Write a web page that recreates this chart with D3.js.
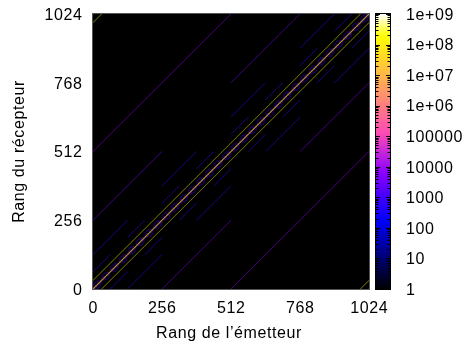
<!DOCTYPE html>
<html>
<head>
<meta charset="utf-8">
<script src="https://cdn.jsdelivr.net/npm/d3@7"></script>
<style>
  html, body { margin: 0; padding: 0; background: #fff; }
  #chart { position: relative; width: 470px; height: 349px; }
  #chart canvas, #chart svg { position: absolute; left: 0; top: 0; }
  text { font-family: "Liberation Sans", Arial, Helvetica, sans-serif; font-size: 16px; letter-spacing: 0.6px; fill: #000; }
</style>
</head>
<body>
<div id="chart"></div>
<script>
const nRanks = 1024;
const xTicks = [0, 256, 512, 768, 1024];
const yTicks = [0, 256, 512, 768, 1024];
const cbTicks = [1, 10, 100, 1e3, 1e4, 1e5, 1e6, 1e7, 1e8, 1e9];
const cbLabels = ['1', '10', '100', '1000', '10000', '100000', '1e+06', '1e+07', '1e+08', '1e+09'];

// halo exchange on a periodic 32 x 32 process grid: receiver offset and volume
const haloOffsets = [1, -1, 32, -32];
const haloVolumes = [2e8, 2e8, 1e8, 1e8];

// recursive doubling exchange (receiver = sender xor stride) and volume
const xorStrides = [512, 256, 128, 64, 32, 16, 8, 4, 2];
const xorVolumes = [8e3, 5e3, 1e3, 1e3, 1e3, 1e3, 2e3, 5e3, 1e4];

const width = 470, height = 349;
const plot = { left: 93, right: 369, top: 14, bottom: 289 };
const cbar = { left: 376, right: 390 };

// gnuplot "rgbformulae 30,31,32"
function clamp(v) { return Math.max(0, Math.min(1, v)); }
function palette(t) {
  const r = clamp(t / 0.32 - 0.78125);
  const g = clamp(2 * t - 0.84);
  let b;
  if (t < 0.25) b = 4 * t;
  else if (t < 0.42) b = 1;
  else if (t < 0.92) b = -2 * t + 1.84;
  else b = t / 0.08 - 11.5;
  return d3.rgb(r * 255, g * 255, clamp(b) * 255).toString();
}

const x = d3.scaleLinear().domain([0, nRanks]).range([plot.left, plot.right]);
const y = d3.scaleLinear().domain([0, nRanks]).range([plot.bottom, plot.top]);
const cbY = d3.scaleLog().domain([1, 1e9]).range([plot.bottom, plot.top]);
const color = d3.scaleSequentialLog(palette).domain([1, 1e9]);

// build the communication matrix (sender -> receiver)
const cells = new Map();
function add(s, r, v) {
  const k = s * nRanks + r;
  cells.set(k, (cells.get(k) || 0) + v);
}
for (let s = 0; s < nRanks; s++) {
  haloOffsets.forEach((off, i) => add(s, (s + off + nRanks) % nRanks, haloVolumes[i]));
  xorStrides.forEach((st, i) => add(s, s ^ st, xorVolumes[i]));
}
const data = Array.from(cells, ([k, v]) => ({ s: Math.floor(k / nRanks), r: k % nRanks, v }))
  .sort((a, b) => a.v - b.v);

const root = d3.select('#chart');
const canvas = root.append('canvas').attr('width', width).attr('height', height);
const ctx = canvas.node().getContext('2d');

ctx.save();
ctx.beginPath();
ctx.rect(plot.left, plot.top, plot.right - plot.left, plot.bottom - plot.top);
ctx.clip();
ctx.fillStyle = color(1);
ctx.fillRect(plot.left, plot.top, plot.right - plot.left, plot.bottom - plot.top);
const minCell = 0.4;
data.forEach(d => {
  const x0 = x(d.s), x1 = x(d.s + 1);
  const y0 = y(d.r + 1), y1 = y(d.r);
  const w = Math.max(x1 - x0, minCell), h = Math.max(y1 - y0, minCell);
  ctx.fillStyle = color(d.v);
  ctx.fillRect((x0 + x1) / 2 - w / 2, (y0 + y1) / 2 - h / 2, w, h);
});
ctx.restore();

const svg = root.append('svg').attr('width', width).attr('height', height);

// plot border
svg.append('rect')
  .attr('x', plot.left - 0.5).attr('y', plot.top - 0.5)
  .attr('width', plot.right - plot.left + 1).attr('height', plot.bottom - plot.top + 1)
  .attr('fill', 'none').attr('stroke', '#555').attr('stroke-width', 1);

// tick labels
svg.selectAll('.xlab').data(xTicks).enter().append('text')
  .attr('x', d => x(d) + 0.3).attr('y', 313)
  .attr('text-anchor', 'middle').text(d => d);

svg.selectAll('.ylab').data(yTicks).enter().append('text')
  .attr('x', 82.6).attr('y', d => y(d)).attr('dy', '0.36em')
  .attr('text-anchor', 'end').text(d => d);

svg.append('text')
  .attr('x', (plot.left + plot.right) / 2 - 2).attr('y', 338)
  .attr('text-anchor', 'middle').text('Rang de l’émetteur');

svg.append('text')
  .attr('transform', `translate(24,${(plot.top + plot.bottom) / 2}) rotate(-90)`)
  .attr('text-anchor', 'middle').text('Rang du récepteur');

// colour box
const grad = svg.append('defs').append('linearGradient')
  .attr('id', 'cb').attr('x1', 0).attr('y1', 1).attr('x2', 0).attr('y2', 0);
d3.range(0, 1.0001, 1 / 90).forEach(t => {
  grad.append('stop').attr('offset', t).attr('stop-color', palette(t));
});
svg.append('rect')
  .attr('x', cbar.left).attr('y', plot.top)
  .attr('width', cbar.right - cbar.left).attr('height', plot.bottom - plot.top)
  .attr('fill', 'url(#cb)');

const minorTicks = [];
cbTicks.slice(0, -1).forEach(d => { for (let k = 2; k < 10; k++) minorTicks.push(d * k); });
const tickG = svg.append('g').attr('stroke', '#000').attr('stroke-width', 1);
function drawTicks(vals, len) {
  vals.forEach(v => {
    const yy = Math.round(cbY(v)) + 0.5;
    tickG.append('line').attr('x1', cbar.left).attr('x2', cbar.left + len).attr('y1', yy).attr('y2', yy);
    tickG.append('line').attr('x1', cbar.right - len).attr('x2', cbar.right).attr('y1', yy).attr('y2', yy);
  });
}
drawTicks(cbTicks, 4);
drawTicks(minorTicks, 2.5);

svg.append('rect')
  .attr('x', cbar.left - 0.5).attr('y', plot.top - 0.5)
  .attr('width', cbar.right - cbar.left + 1).attr('height', plot.bottom - plot.top + 1)
  .attr('fill', 'none').attr('stroke', '#000').attr('stroke-width', 1);

svg.selectAll('.cblab').data(cbTicks).enter().append('text')
  .attr('x', 406).attr('y', d => cbY(d)).attr('dy', '0.36em')
  .text((d, i) => cbLabels[i]);
</script>
</body>
</html>
